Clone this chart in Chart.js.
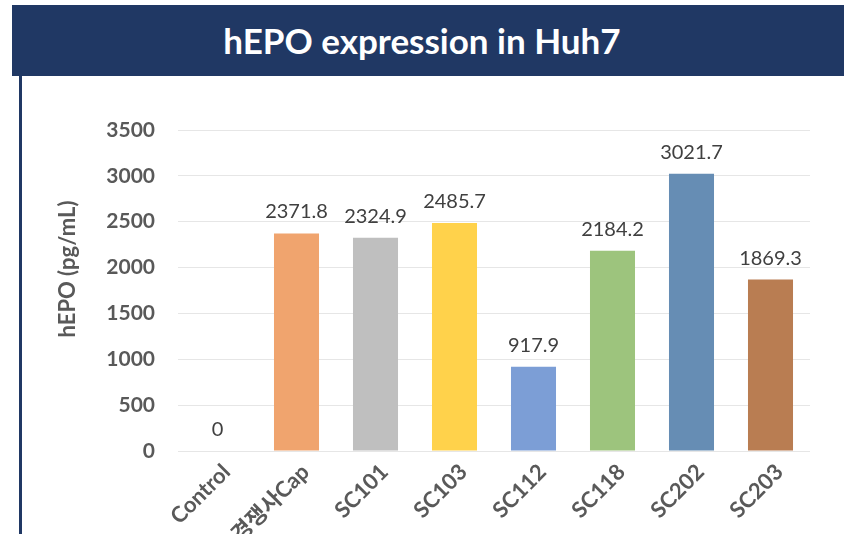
<!DOCTYPE html>
<html>
<head>
<meta charset="utf-8">
<script src="https://cdn.jsdelivr.net/npm/chart.js@4.4.0/dist/chart.umd.min.js"></script>
<style>
	body { margin: 0; background: #fff; width: 844px; height: 534px; overflow: hidden; position: relative; font-family: Lato, 'Noto Sans CJK KR', sans-serif; }
	#header { position: absolute; left: 12px; top: 5px; width: 820px; padding-right: 12px; height: 71px; background: #203864; color: #fff; font-weight: bold; font-size: 35px; text-align: center; line-height: 71px; }
	#side { position: absolute; left: 19px; top: 76px; width: 3px; height: 458px; background: #203864; }
	#wrap { position: absolute; left: 22px; top: 76px; width: 822px; height: 458px; }
</style>
</head>
<body>
<div id="header">hEPO expression in Huh7</div>
<div id="side"></div>
<div id="wrap"><canvas id="hepo_chart"></canvas></div>
<script>
const categories = ['Control', '경쟁사Cap', 'SC101', 'SC103', 'SC112', 'SC118', 'SC202', 'SC203'];
const hepoValues = [0, 2371.8, 2324.9, 2485.7, 917.9, 2184.2, 3021.7, 1869.3];
const barColors = ['#A5A5A5', '#F0A46E', '#BFBFBF', '#FFD24B', '#7C9ED6', '#9DC47D', '#668DB4', '#B97D52'];
const yTicks = [0, 500, 1000, 1500, 2000, 2500, 3000, 3500];
const yTitle = 'hEPO (pg/mL)';

const FONT = "Lato, 'Noto Sans CJK KR', sans-serif";

// value labels above each bar
const valueLabels = {
	id: 'valueLabels',
	afterDatasetsDraw(chart) {
		const ctx = chart.ctx;
		const meta = chart.getDatasetMeta(0);
		ctx.save();
		ctx.font = '20px ' + FONT;
		ctx.fillStyle = '#404040';
		ctx.textAlign = 'center';
		ctx.textBaseline = 'alphabetic';
		meta.data.forEach((bar, i) => {
			const v = hepoValues[i];
			const txt = v === 0 ? '0' : v.toFixed(1);
			ctx.fillText(txt, bar.x, bar.y - 15);
		});
		ctx.restore();
	}
};

// y axis title, placed a bit above the plot centre like the original
const axisTitle = {
	id: 'axisTitle',
	afterDraw(chart) {
		const ctx = chart.ctx;
		ctx.save();
		ctx.translate(46, 193);
		ctx.rotate(-Math.PI / 2);
		ctx.font = 'bold 22px ' + FONT;
		ctx.fillStyle = '#595959';
		ctx.textAlign = 'center';
		ctx.textBaseline = 'middle';
		ctx.fillText(yTitle, 0, 0);
		ctx.restore();
	}
};

const ctx = document.getElementById('hepo_chart').getContext('2d');
const myChart = new Chart(ctx, {
	type: 'bar',
	data: {
		labels: categories,
		datasets: [{
			data: hepoValues,
			backgroundColor: barColors,
			barPercentage: 0.57,
			categoryPercentage: 1.0
		}]
	},
	options: {
		responsive: true,
		maintainAspectRatio: false,
		animation: false,
		layout: {
			padding: { top: 54, right: 34, bottom: 0, left: 0 }
		},
		plugins: {
			legend: { display: false },
			tooltip: { enabled: false }
		},
		scales: {
			y: {
				min: 0,
				max: 3500,
				afterFit(scale) { scale.width = 156; },
				afterBuildTicks(scale) { scale.ticks = yTicks.map(v => ({ value: v })); },
				ticks: {
					color: '#595959',
					padding: 23,
					callback: v => String(v),
					font: { family: FONT, size: 21, weight: 'bold' }
				},
				grid: { color: '#E6E6E6', drawTicks: false },
				border: { display: false }
			},
			x: {
				afterFit(scale) { scale.height = 83; },
				ticks: {
					color: '#595959',
					autoSkip: false,
					maxRotation: 45,
					minRotation: 45,
					padding: 0,
					labelOffset: 9,
					font: { family: FONT, size: 22, weight: 'bold' }
				},
				grid: { display: false },
				border: { display: false }
			}
		}
	},
	plugins: [valueLabels, axisTitle]
});
</script>
</body>
</html>
